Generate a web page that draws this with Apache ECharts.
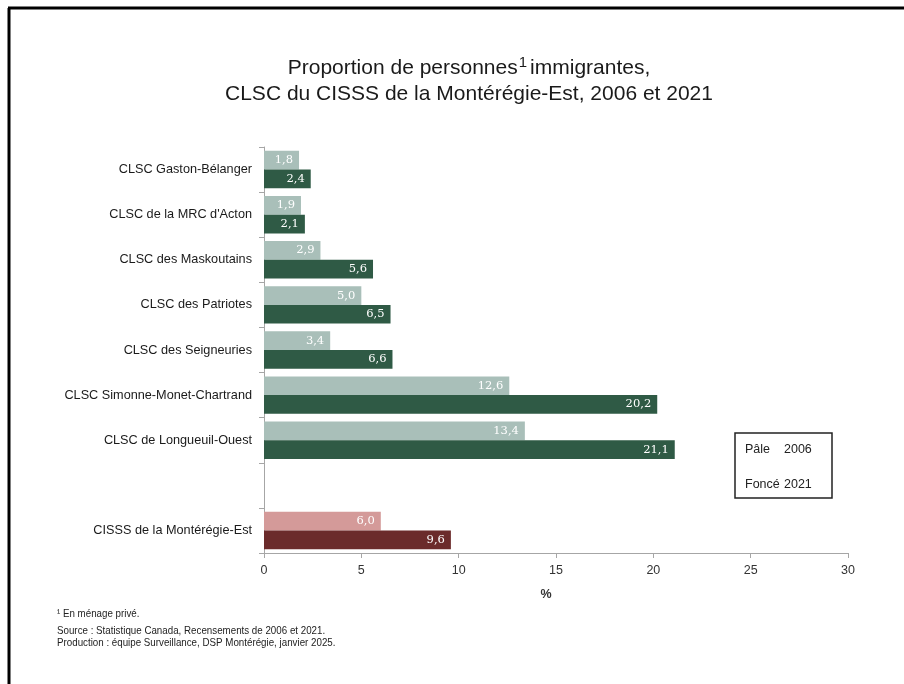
<!DOCTYPE html>
<html>
<head>
<meta charset="utf-8">
<script src="https://cdn.jsdelivr.net/npm/echarts@6/dist/echarts.min.js"></script>
<style>
html,body{margin:0;padding:0;background:#fff;}
#chart{width:904px;height:684px;}
</style>
</head>
<body>
<div id="chart"></div>
<script>
const categories = [
  'CLSC Gaston-Bélanger',
  "CLSC de la MRC d'Acton",
  'CLSC des Maskoutains',
  'CLSC des Patriotes',
  'CLSC des Seigneuries',
  'CLSC Simonne-Monet-Chartrand',
  'CLSC de Longueuil-Ouest',
  '',
  'CISSS de la Montérégie-Est'
];
const values2006 = [1.8, 1.9, 2.9, 5.0, 3.4, 12.6, 13.4, null, 6.0];
const values2021 = [2.4, 2.1, 5.6, 6.5, 6.6, 20.2, 21.1, null, 9.6];
const xTicks = [0, 5, 10, 15, 20, 25, 30];

const pale = '#a9bfb9', dark = '#2f5a45';
const paleRed = '#d49a99', darkRed = '#6b2b2b';
const regionIndex = 8;

function mk(vals, base, red) {
  return vals.map((v, i) => ({
    value: v,
    itemStyle: { color: i === regionIndex ? red : base }
  }));
}

const labelCfg = {
  show: true,
  position: 'insideRight',
  distance: 6,
  color: '#ffffff',
  fontFamily: 'DejaVu Serif',
  fontSize: 11.5,
  formatter: p => p.value == null ? '' : p.value.toFixed(1).replace('.', ',')
};

const footFont = '10.5px "Liberation Sans"';

const chart = echarts.init(document.getElementById('chart'));
chart.setOption({
  animation: false,
  backgroundColor: '#fff',
  title: {
    text: 'Proportion de personnes{sup|1}immigrantes,\nCLSC du CISSS de la Montérégie-Est, 2006 et 2021',
    left: 464,
    textAlign: 'center',
    top: 50,
    textStyle: {
      fontFamily: 'Liberation Sans',
      fontSize: 21,
      fontWeight: 'normal',
      color: '#1a1a1a',
      lineHeight: 26,
      rich: {
        sup: { fontSize: 15, verticalAlign: 'top', padding: [0, 3, 6, 1], fontFamily: 'Liberation Sans', color: '#1a1a1a' }
      }
    }
  },
  grid: { left: 264, right: 56, top: 147, bottom: 131, containLabel: false },
  xAxis: {
    type: 'value',
    min: 0, max: 30, interval: 5,
    axisLine: { show: true, lineStyle: { color: '#a6a6a6' } },
    axisTick: { show: true, length: 5, lineStyle: { color: '#a6a6a6' } },
    splitLine: { show: false },
    axisLabel: {
      color: '#333', fontSize: 12.5, fontFamily: 'Liberation Sans', margin: 11,
      formatter: v => xTicks.includes(v) ? String(v) : ''
    },
    name: '%',
    nameLocation: 'middle',
    nameGap: 35,
    nameTextStyle: { fontWeight: 'bold', fontSize: 12.5, color: '#333', fontFamily: 'Liberation Sans', padding: [0, 20, 0, 0] }
  },
  yAxis: {
    type: 'category',
    inverse: true,
    data: categories,
    axisLine: { show: true, lineStyle: { color: '#a6a6a6' } },
    axisTick: { show: true, length: 5, lineStyle: { color: '#a6a6a6' } },
    axisLabel: { color: '#1a1a1a', fontSize: 12.7, fontFamily: 'Liberation Sans', margin: 12 }
  },
  series: [
    {
      name: '2006', type: 'bar', data: mk(values2006, pale, paleRed),
      barGap: '0%', barCategoryGap: '17%', label: labelCfg
    },
    {
      name: '2021', type: 'bar', data: mk(values2021, dark, darkRed),
      barGap: '0%', barCategoryGap: '17%', label: labelCfg
    }
  ],
  graphic: [
    { type: 'line', shape: { x1: 8, y1: 8, x2: 904, y2: 8 }, style: { stroke: '#000', lineWidth: 3 } },
    { type: 'line', shape: { x1: 9, y1: 8, x2: 9, y2: 684 }, style: { stroke: '#000', lineWidth: 3 } },
    { type: 'rect', shape: { x: 735, y: 433, width: 97, height: 65 }, style: { fill: '#fff', stroke: '#222', lineWidth: 1.5 } },
    { type: 'text', x: 745, y: 450, style: { text: 'Pâle', font: '12.5px "Liberation Sans"', fill: '#222', verticalAlign: 'middle' } },
    { type: 'text', x: 784, y: 450, style: { text: '2006', font: '12.5px "Liberation Sans"', fill: '#222', verticalAlign: 'middle' } },
    { type: 'text', x: 745, y: 485, style: { text: 'Foncé', font: '12.5px "Liberation Sans"', fill: '#222', verticalAlign: 'middle' } },
    { type: 'text', x: 784, y: 485, style: { text: '2021', font: '12.5px "Liberation Sans"', fill: '#222', verticalAlign: 'middle' } },
    { type: 'text', x: 57, y: 614, scaleX: 0.93, style: { text: '¹ En ménage privé.', font: footFont, fill: '#222', verticalAlign: 'middle' } },
    { type: 'text', x: 57, y: 631, scaleX: 0.93, style: { text: 'Source : Statistique Canada, Recensements de 2006 et 2021.', font: footFont, fill: '#222', verticalAlign: 'middle' } },
    { type: 'text', x: 57, y: 643, scaleX: 0.93, style: { text: 'Production : équipe Surveillance, DSP Montérégie, janvier 2025.', font: footFont, fill: '#222', verticalAlign: 'middle' } }
  ]
});
</script>
</body>
</html>
